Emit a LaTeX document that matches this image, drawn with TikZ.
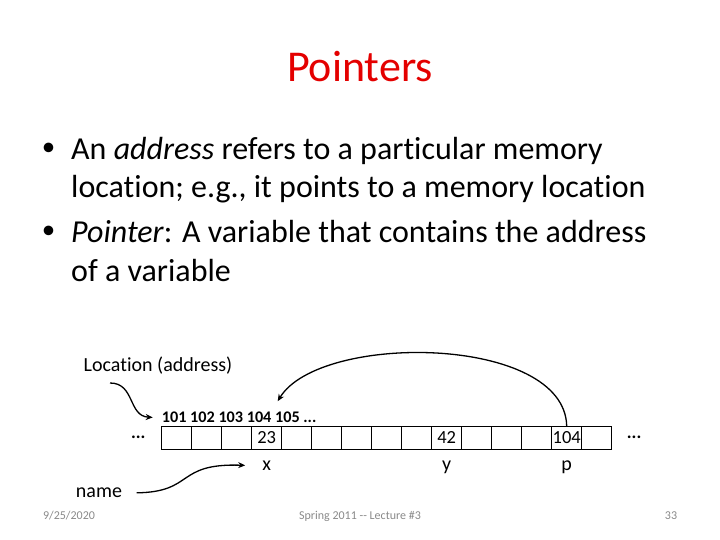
\documentclass[tikz,border=0pt]{standalone}
\usepackage{fontspec}
\setmainfont{Carlito}[Ligatures={TeX,NoCommon}]
\usetikzlibrary{positioning,arrows.meta,calc}
\definecolor{titlered}{RGB}{228,0,0}
\definecolor{footgray}{RGB}{137,137,137}

\begin{document}
\begin{tikzpicture}[x=1pt, y=-1pt,
    cell/.style={rectangle, draw, line width=1.3pt, minimum width=30pt, minimum height=23pt, inner sep=0pt, outer sep=0pt, font=\fontsize{18.5}{21}\selectfont},
    bodytext/.style={anchor=base west, inner sep=0pt, font=\fontsize{32}{38}\selectfont},
    bulletmark/.style={inner sep=0pt, font=\fontsize{27}{30}\selectfont},
    small/.style={font=\fontsize{20}{24}\selectfont},
    varname/.style={anchor=base, inner sep=0pt, font=\fontsize{20}{24}\selectfont},
    foot/.style={text=footgray, font=\fontsize{12}{14}\selectfont},
    arrow/.style={-{Stealth[length=7pt, width=6pt]}, line width=1.3pt}
]

\useasboundingbox (0,0) rectangle (720,540);

% Title
\node[text=titlered, font=\fontsize{44}{52}\selectfont] (title) at (360,67) {Pointers};

% Bullets
\node[bulletmark] (dot1) at (48.5,149) {\textbullet};
\node[bodytext] (l1) at (71,160) {An \textit{address} refers to a particular memory};
\node[bodytext] (l2) at (71,198) {location; e.g., it points to a memory location};
\node[bulletmark] (dot2) at (48.5,232) {\textbullet};
\node[bodytext] (l3) at (71,243) {\textit{Pointer}: A variable that contains the address};
\node[bodytext] (l4) at (71,281) {of a variable};

% Memory cells
\node[cell] (c1) at (176.7,437.7) {};
\node[cell, right=0pt of c1] (c2) {};
\node[cell, right=0pt of c2] (c3) {};
\node[cell, right=0pt of c3] (c4) {23};
\node[cell, right=0pt of c4] (c5) {};
\node[cell, right=0pt of c5] (c6) {};
\node[cell, right=0pt of c6] (c7) {};
\node[cell, right=0pt of c7] (c8) {};
\node[cell, right=0pt of c8] (c9) {};
\node[cell, right=0pt of c9] (c10) {42};
\node[cell, right=0pt of c10] (c11) {};
\node[cell, right=0pt of c11] (c12) {};
\node[cell, right=0pt of c12] (c13) {};
\node[cell, right=0pt of c13] (c14) {104};
\node[cell, right=0pt of c14] (c15) {};

% Dots either side
\node[anchor=base east, inner sep=0pt, font=\fontsize{18}{21}\selectfont\bfseries] (ldots) at ($(c1.west)+(-16,1)$) {...};
\node[anchor=base west, inner sep=0pt, font=\fontsize{18}{21}\selectfont\bfseries] (rdots) at ($(c15.east)+(15,1)$) {...};

% Addresses and variable names
\node[anchor=base west, inner ysep=0pt, inner xsep=9pt, font=\fontsize{16.2}{19}\selectfont\bfseries] (addr) at ($(c1.north west)+(-9,-3.5)$) {101 102 103 104 105 ...};
\node[varname] (lx) at ($(c4.south)+(0,21.5)$) {x};
\node[varname] (ly) at ($(c10.south)+(0,21.5)$) {y};
\node[varname] (lp) at ($(c14.south)+(0,21.5)$) {p};

% Captions
\node[small] (loc) at (158,366) {Location (address)};
\node[small] (name) at (99,493) {name};
\coordinate (locfrom) at (110,383);
\coordinate (pto) at ($(c4.north east)+(-4,-25)$);

% Arrows
\draw[arrow] (locfrom) .. controls (135,383) and (128,416) .. (addr.west);
\draw[arrow, shorten <=11pt, shorten >=17pt] (name.east) .. controls (195,492) and (175,463) .. (lx.west);
\draw[arrow] (c14.north) .. controls (565,335) and (320,332) .. (pto);

% Footer
\node[foot] (date) at (69,516) {9/25/2020};
\node[foot] (course) at (360,516) {Spring 2011 -{}- Lecture \#3};
\node[foot] (pg) at (671,516) {33};

\end{tikzpicture}
\end{document}
